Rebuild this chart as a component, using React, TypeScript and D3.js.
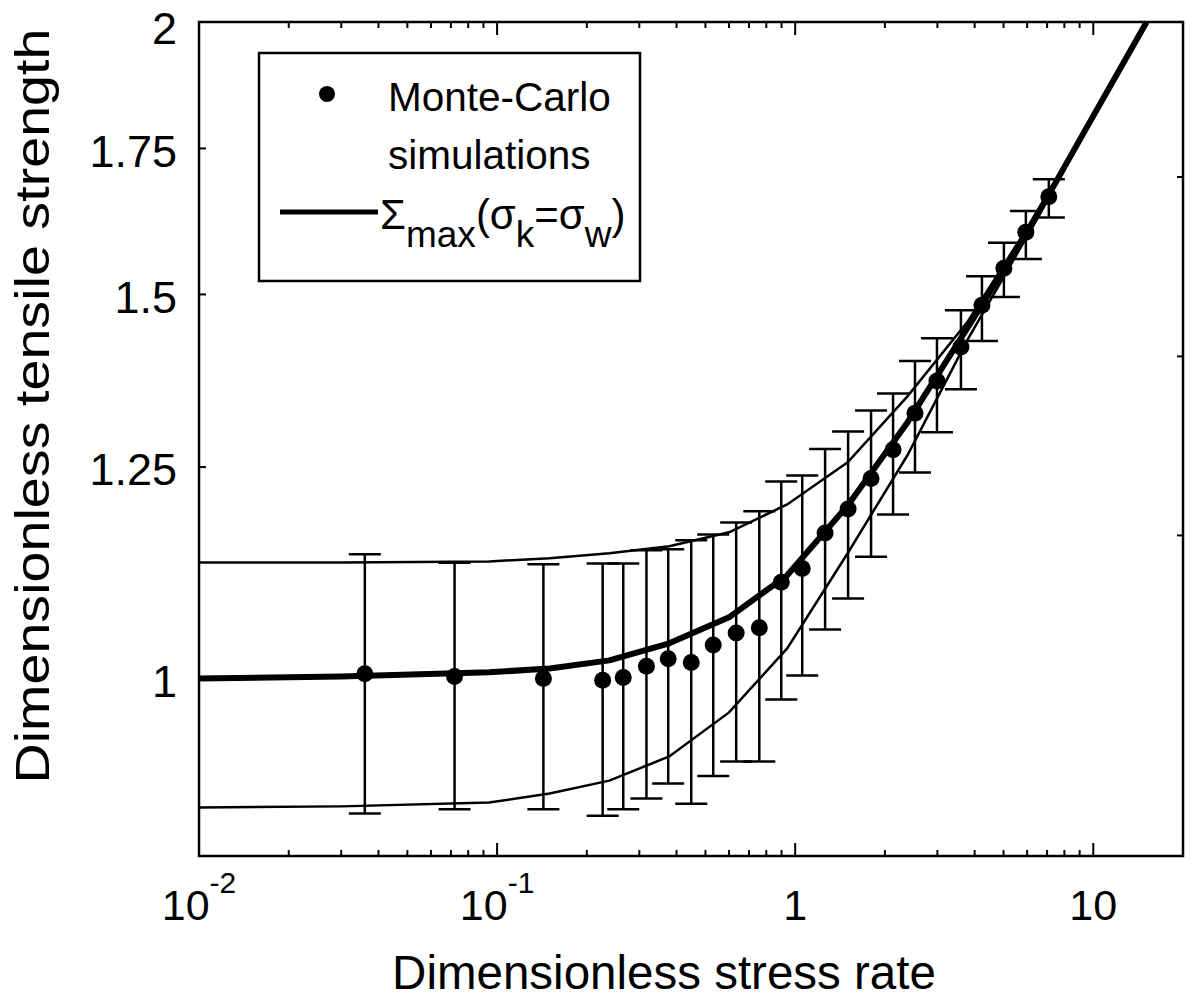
import React, { useRef, useEffect } from 'react';
import * as d3 from 'd3';

// Monte-Carlo simulations (mean and error bar ends)
const mcRate = [0.036, 0.072, 0.143, 0.226, 0.265, 0.317, 0.375, 0.448, 0.531, 0.634, 0.758, 0.898, 1.056, 1.26, 1.505, 1.797, 2.13, 2.523, 2.99, 3.598, 4.232, 5.014, 5.941, 7.094];
const mcMean = [1.005, 1.002, 1.0, 0.998, 1.001, 1.013, 1.021, 1.017, 1.036, 1.049, 1.055, 1.107, 1.123, 1.166, 1.196, 1.235, 1.273, 1.323, 1.369, 1.419, 1.483, 1.542, 1.602, 1.663];
const mcUpper = [1.14, 1.13, 1.128, 1.129, 1.129, 1.145, 1.146, 1.157, 1.164, 1.179, 1.193, 1.231, 1.239, 1.274, 1.298, 1.327, 1.351, 1.398, 1.432, 1.475, 1.529, 1.584, 1.638, 1.694];
const mcLower = [0.867, 0.871, 0.871, 0.865, 0.871, 0.881, 0.895, 0.876, 0.902, 0.916, 0.916, 0.978, 1.003, 1.053, 1.088, 1.137, 1.189, 1.243, 1.297, 1.357, 1.428, 1.496, 1.557, 1.627];

// Sigma_max curve and its band
const curveRate = [0.01, 0.03, 0.094, 0.15, 0.238, 0.378, 0.6, 0.94, 1.5, 2.38, 3.78, 6.0, 9.4, 15.1];
const curveMid = [1.0, 1.002, 1.0064, 1.0106, 1.0192, 1.0377, 1.0666, 1.115, 1.2003, 1.3103, 1.4477, 1.6006, 1.7842, 2.0];
const curveHigh = [1.1303, 1.1303, 1.1315, 1.1352, 1.1413, 1.1497, 1.1668, 1.2017, 1.2563, 1.347, 1.4568, 1.609, 1.7842, 2.0];
const curveLow = [0.8725, 0.8736, 0.8772, 0.8855, 0.8977, 0.9209, 0.9647, 1.0322, 1.1413, 1.2657, 1.4294, 1.595, 1.7842, 2.0];

const xMajor = [0.01, 0.1, 1, 10];
const xMajorLabels = [['10', '-2'], ['10', '-1'], ['1', ''], ['10', '']];
const yTicks = [1, 1.25, 1.5, 1.75, 2];
const yTickLabels = ['1', '1.25', '1.5', '1.75', '2'];
const yRightTicks = [1.163, 1.405, 1.698];

const FONT = '"Liberation Sans", Arial, Helvetica, sans-serif';

const App = () => {
  const chartRef = useRef(null);

  useEffect(() => {
    const container = d3.select(chartRef.current);
    container.selectAll('svg').remove();

    const width = 1194;
    const height = 1000;
    const left = 199, right = 1183, top = 22, bottom = 856;

    const svg = container.append('svg')
      .attr('width', width)
      .attr('height', height)
      .style('display', 'block')
      .style('font-family', FONT);

    svg.append('rect').attr('width', width).attr('height', height).attr('fill', '#fff');

    const x = d3.scaleLog().domain([0.01, 20]).range([left, right]);
    const y = d3.scaleLog().domain([0.829, 2]).range([bottom, top]);

    // frame
    svg.append('rect')
      .attr('x', left).attr('y', top)
      .attr('width', right - left).attr('height', bottom - top)
      .attr('fill', 'none').attr('stroke', '#000').attr('stroke-width', 2.5);

    // x ticks (bottom + top)
    const minors: number[] = [];
    [0.01, 0.1, 1, 10].forEach((d) => {
      for (let k = 2; k <= 9; k++) {
        const v = d * k;
        if (v < 20) minors.push(v);
      }
    });
    const tickG = svg.append('g').attr('stroke', '#000').attr('stroke-width', 2);
    minors.forEach((v) => {
      tickG.append('line').attr('x1', x(v)).attr('x2', x(v)).attr('y1', bottom).attr('y2', bottom - 6);
      tickG.append('line').attr('x1', x(v)).attr('x2', x(v)).attr('y1', top).attr('y2', top + 6);
    });
    xMajor.forEach((v) => {
      tickG.append('line').attr('x1', x(v)).attr('x2', x(v)).attr('y1', bottom).attr('y2', bottom - 13);
      tickG.append('line').attr('x1', x(v)).attr('x2', x(v)).attr('y1', top).attr('y2', top + 13);
    });
    yTicks.forEach((v) => {
      tickG.append('line').attr('x1', left).attr('x2', left + 7).attr('y1', y(v)).attr('y2', y(v));
    });
    yRightTicks.forEach((v) => {
      tickG.append('line').attr('x1', right).attr('x2', right - 6).attr('y1', y(v)).attr('y2', y(v));
    });

    // x tick labels
    xMajor.forEach((v, i) => {
      const [base, sup] = xMajorLabels[i];
      const t = svg.append('text')
        .attr('x', x(v)).attr('y', 920)
        .attr('text-anchor', 'middle')
        .attr('font-size', 43);
      t.append('tspan').text(base);
      if (sup) {
        t.append('tspan').attr('dy', -27).attr('font-size', 30).text(sup);
      }
    });

    // y tick labels
    yTicks.forEach((v, i) => {
      const base = y(v) + 45 * 0.36 + 2;
      svg.append('text')
        .attr('x', 177).attr('y', Math.max(base, 44))
        .attr('text-anchor', 'end')
        .attr('font-size', 45)
        .text(yTickLabels[i]);
    });

    // axis titles
    svg.append('text')
      .attr('x', 664).attr('y', 989)
      .attr('text-anchor', 'middle')
      .attr('font-size', 47.5)
      .text('Dimensionless stress rate');
    svg.append('text')
      .attr('transform', 'translate(49,406) rotate(-90)')
      .attr('text-anchor', 'middle')
      .attr('font-size', 49)
      .attr('textLength', 755)
      .attr('lengthAdjust', 'spacingAndGlyphs')
      .text('Dimensionless tensile strength');

    // curves
    const plot = svg.append('g');
    const line = d3.line<number>()
      .x((_, i) => x(curveRate[i]))
      .y((d) => y(d));
    [curveHigh, curveLow].forEach((c) => {
      plot.append('path').attr('d', line(c)).attr('fill', 'none')
        .attr('stroke', '#000').attr('stroke-width', 2.5);
    });
    plot.append('path').attr('d', line(curveMid)).attr('fill', 'none')
      .attr('stroke', '#000').attr('stroke-width', 6).attr('stroke-linejoin', 'round');

    // error bars
    const eb = plot.append('g').attr('stroke', '#000').attr('stroke-width', 2.5);
    mcRate.forEach((r, i) => {
      const cx = x(r);
      eb.append('line').attr('x1', cx).attr('x2', cx).attr('y1', y(mcLower[i])).attr('y2', y(mcUpper[i]));
      eb.append('line').attr('x1', cx - 16).attr('x2', cx + 16).attr('y1', y(mcLower[i])).attr('y2', y(mcLower[i]));
      eb.append('line').attr('x1', cx - 16).attr('x2', cx + 16).attr('y1', y(mcUpper[i])).attr('y2', y(mcUpper[i]));
    });

    // points
    plot.selectAll('.mc')
      .data(mcMean)
      .enter()
      .append('circle')
      .attr('class', 'mc')
      .attr('cx', (_, i) => x(mcRate[i]))
      .attr('cy', (d) => y(d))
      .attr('r', 8.5)
      .attr('fill', '#000');

    // legend
    const lg = svg.append('g');
    lg.append('rect')
      .attr('x', 259).attr('y', 53).attr('width', 381).attr('height', 228)
      .attr('fill', '#fff').attr('stroke', '#000').attr('stroke-width', 2.5);
    lg.append('circle').attr('cx', 327).attr('cy', 94).attr('r', 8).attr('fill', '#000');
    lg.append('text').attr('x', 388).attr('y', 111).attr('font-size', 40.5).text('Monte-Carlo');
    lg.append('text').attr('x', 388).attr('y', 169).attr('font-size', 40.5).text('simulations');
    lg.append('line').attr('x1', 280).attr('x2', 378).attr('y1', 212).attr('y2', 212)
      .attr('stroke', '#000').attr('stroke-width', 5);
    const sl = lg.append('text').attr('x', 380).attr('y', 229).attr('font-size', 42);
    sl.append('tspan').text('Σ');
    sl.append('tspan').attr('dy', 18).attr('font-size', 37).text('max');
    sl.append('tspan').attr('dy', -18).text('(σ');
    sl.append('tspan').attr('dy', 18).attr('font-size', 37).text('k');
    sl.append('tspan').attr('dy', -18).text('=σ');
    sl.append('tspan').attr('dy', 18).attr('font-size', 37).text('w');
    sl.append('tspan').attr('dy', -18).text(')');
  }, []);

  return (
    <div ref={chartRef} style={{ position: 'absolute', left: 0, top: 0 }}></div>
  );
};

export default App;
